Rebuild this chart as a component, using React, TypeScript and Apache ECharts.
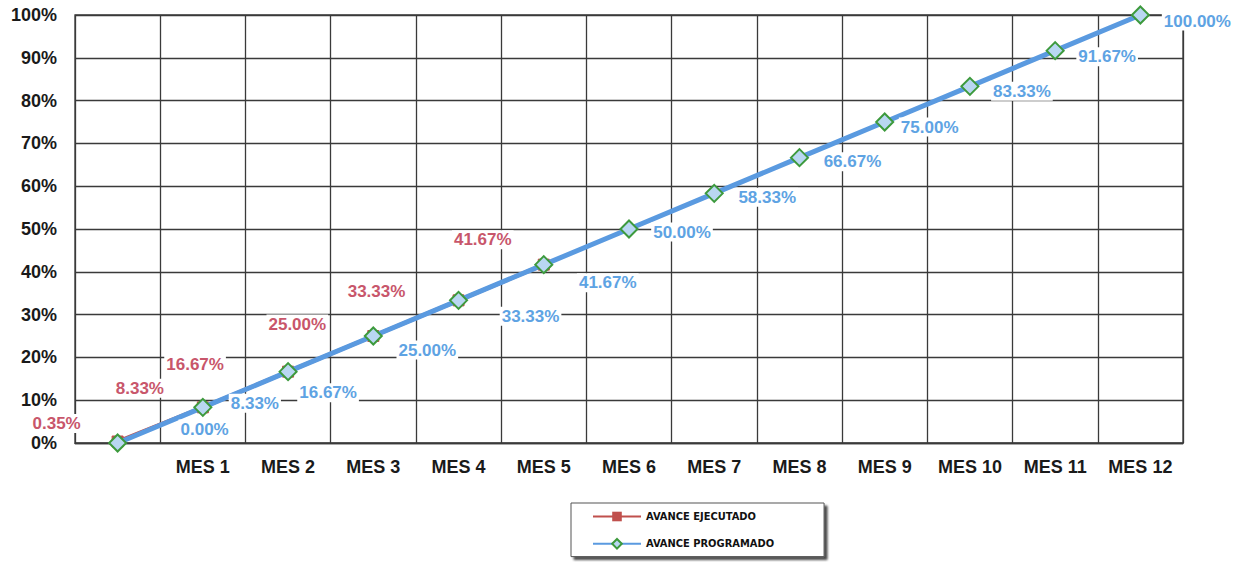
import React, { useEffect, useRef } from "react";
import * as echarts from "echarts";

const categories = ["", "MES 1", "MES 2", "MES 3", "MES 4", "MES 5", "MES 6", "MES 7", "MES 8", "MES 9", "MES 10", "MES 11", "MES 12"];
const executedValues = [0.35, 8.33, 16.67, 25.0, 33.33, 41.67];
const programmedValues = [0.0, 8.33, 16.67, 25.0, 33.33, 41.67, 50.0, 58.33, 66.67, 75.0, 83.33, 91.67, 100.0];
const yTicks = [0, 10, 20, 30, 40, 50, 60, 70, 80, 90, 100];
const seriesNames = ["AVANCE EJECUTADO", "AVANCE PROGRAMADO"];

// label offsets (styling only)
const executedLabelOffsets = [[-61, -18], [-63, -19], [-93, -7], [-76, -12], [-82, -9], [-61, -25]];
const programmedLabelOffsets = [[87, -14], [52, -4], [40, 21], [54, 14], [72, 16], [64, 18], [53, 3], [53, 4], [53, 4], [45, 5], [52, 5], [52, 6], [57, 6]];

const RED = "#c0504d";
const RED_TEXT = "#c8566b";
const BLUE = "#5a9ae0";
const BLUE_TEXT = "#5ea3e3";
const GREEN = "#3d9a3d";

export default function App() {
  const ref = useRef<HTMLDivElement>(null);
  useEffect(() => {
    if (!ref.current) return;
    const chart = echarts.init(ref.current, undefined, { renderer: "svg" });
    const fmt = (p: any) => Number(p.value).toFixed(2) + "%";
    const labelBase = {
      show: true,
      position: "inside" as const,
      fontFamily: "Arial, 'Liberation Sans', sans-serif",
      fontWeight: "bold" as const,
      fontSize: 17,
      backgroundColor: "#ffffff",
      padding: [1, 2],
      formatter: fmt,
    };
    chart.setOption({
      animation: false,
      backgroundColor: "#ffffff",
      grid: {
        left: 75,
        right: 54,
        top: 15,
        bottom: 119,
        show: true,
        borderColor: "#3a3a3a",
        borderWidth: 1.3,
        containLabel: false,
      },
      legend: {
        orient: "vertical",
        left: 571,
        top: 503,
        padding: [8, 50, 7, 21],
        itemWidth: 48,
        itemHeight: 12,
        itemGap: 16,
        borderColor: "#555",
        borderWidth: 1,
        backgroundColor: "#fff",
        shadowColor: "rgba(0,0,0,0.7)",
        shadowBlur: 2,
        shadowOffsetX: 3,
        shadowOffsetY: 3,
        data: seriesNames,
        textStyle: {
          fontFamily: "'Liberation Sans Narrow', 'DejaVu Sans Condensed', sans-serif",
          fontWeight: "bold",
          fontSize: 11,
          color: "#111",
        },
      },
      xAxis: {
        type: "category",
        data: categories,
        boundaryGap: true,
        axisLine: { show: true, lineStyle: { color: "#3a3a3a", width: 1.3 } },
        axisTick: { show: false },
        axisLabel: {
          interval: 0,
          margin: 15,
          color: "#1a1a1a",
          fontFamily: "Arial, 'Liberation Sans', sans-serif",
          fontWeight: "bold",
          fontSize: 18,
        },
        splitLine: { show: true, interval: 0, lineStyle: { color: "#3a3a3a", width: 1.3 } },
      },
      yAxis: {
        type: "value",
        min: yTicks[0],
        max: yTicks[yTicks.length - 1],
        interval: 10,
        axisLine: { show: false },
        axisTick: { show: false },
        axisLabel: {
          margin: 18,
          color: "#1a1a1a",
          fontFamily: "Arial, 'Liberation Sans', sans-serif",
          fontWeight: "bold",
          fontSize: 18,
          formatter: "{value}%",
        },
        splitLine: { show: true, lineStyle: { color: "#3a3a3a", width: 1.3 } },
      },
      series: [
        {
          name: seriesNames[0],
          type: "line",
          z: 2,
          symbol: "rect",
          symbolSize: 11,
          lineStyle: { color: RED, width: 4 },
          itemStyle: { color: RED, borderColor: RED },
          label: { ...labelBase, color: RED_TEXT },
          data: executedValues.map((v, i) => ({
            value: v,
            label: { offset: executedLabelOffsets[i] },
          })),
        },
        {
          name: seriesNames[1],
          type: "line",
          z: 3,
          symbol: "diamond",
          symbolSize: 17,
          lineStyle: { color: BLUE, width: 5 },
          itemStyle: { color: "#b9d7f2", borderColor: GREEN, borderWidth: 2 },
          label: { ...labelBase, color: BLUE_TEXT },
          data: programmedValues.map((v, i) => ({
            value: v,
            label: { offset: programmedLabelOffsets[i] },
          })),
        },
      ],
    });
    return () => chart.dispose();
  }, []);
  return (
    <div
      ref={ref}
      style={{ position: "fixed", left: 0, top: 0, width: 1237, height: 562 }}
    />
  );
}
